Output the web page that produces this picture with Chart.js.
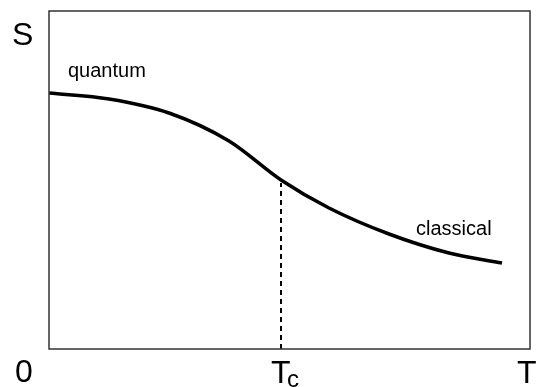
<!DOCTYPE html>
<html>
<head>
<meta charset="utf-8">
<script src="https://cdn.jsdelivr.net/npm/chart.js@4"></script>
<style>
html,body{margin:0;padding:0;background:#fff;}
#wrap{width:536px;height:387px;position:relative;}
</style>
</head>
<body>
<div id="wrap"><canvas id="c" width="536" height="387"></canvas></div>
<script>
// Curve S(T) (arbitrary units: T 0..481, S 0..338)
const tValues = [0, 60, 120, 180, 232, 280, 340, 400, 453];
const sValues = [256, 250, 236, 208, 169, 141, 115, 96, 86];
// Critical temperature marker
const tcValue = [232];
const tcTop = [166];
// Axis labels
const yAxisLabel = "S";
const originLabel = "0";
const xAxisLabel = "T";
const tcLabel = ["T", "c"];
const regionLabels = ["quantum", "classical"];
const regionPos = [[19, 272], [367, 114]]; // [T, S] for label left/baseline

const curve = tValues.map((t, i) => ({x: t, y: sValues[i]}));
const dash = [{x: tcValue[0], y: 0}, {x: tcValue[0], y: tcTop[0]}];

const decor = {
  id: 'decor',
  afterDraw(chart) {
    const ctx = chart.ctx, a = chart.chartArea;
    const xs = chart.scales.x, ys = chart.scales.y;
    ctx.save();
    ctx.strokeStyle = '#333';
    ctx.lineWidth = 1.5;
    ctx.strokeRect(a.left, a.top, a.right - a.left, a.bottom - a.top);
    ctx.fillStyle = '#000';
    ctx.textBaseline = 'alphabetic';
    ctx.textAlign = 'left';
    ctx.font = '32px "Liberation Sans", Arial, sans-serif';
    ctx.fillText(yAxisLabel, 12, 45);
    ctx.fillText(originLabel, 15, 382);
    ctx.fillText(xAxisLabel, 517, 383);
    const tcx = xs.getPixelForValue(tcValue[0]);
    ctx.fillText(tcLabel[0], tcx - 10, 383);
    ctx.font = '24px "Liberation Sans", Arial, sans-serif';
    ctx.fillText(tcLabel[1], tcx + 6, 387);
    ctx.font = '20px "Liberation Sans", Arial, sans-serif';
    regionLabels.forEach((s, i) => {
      ctx.fillText(s, xs.getPixelForValue(regionPos[i][0]), ys.getPixelForValue(regionPos[i][1]));
    });
    ctx.restore();
  }
};

new Chart(document.getElementById('c'), {
  type: 'scatter',
  data: {
    datasets: [
      {data: curve, showLine: true, borderColor: '#000', borderWidth: 3.5, pointRadius: 0, cubicInterpolationMode: 'monotone', fill: false},
      {data: dash, showLine: true, borderColor: '#000', borderWidth: 2, borderDash: [5, 4], pointRadius: 0, fill: false}
    ]
  },
  options: {
    responsive: false,
    animation: false,
    layout: {padding: {left: 49, right: 6, top: 11, bottom: 38}},
    plugins: {legend: {display: false}, tooltip: {enabled: false}},
    scales: {
      x: {type: 'linear', min: 0, max: 481, display: false},
      y: {type: 'linear', min: 0, max: 338, display: false}
    }
  },
  plugins: [decor]
});
</script>
</body>
</html>
